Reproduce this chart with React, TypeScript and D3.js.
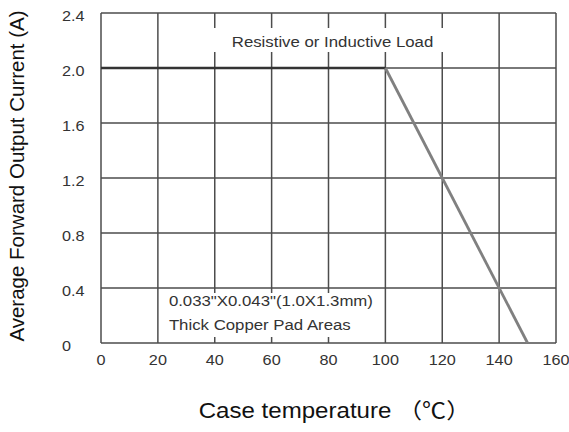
import React from "react";
import * as d3 from "d3";

const W = 569;
const H = 432;
const margin = { left: 101, right: 13, top: 13, bottom: 89 };

const xTicks = [0, 20, 40, 60, 80, 100, 120, 140, 160];
const yTicks = [0, 0.4, 0.8, 1.2, 1.6, 2.0, 2.4];
const yTickLabels = ["0", "0.4", "0.8", "1.2", "1.6", "2.0", "2.4"];

const flatSegment: [number, number][] = [
  [0, 2.0],
  [100, 2.0],
];
const deratingSegment: [number, number][] = [
  [100, 2.0],
  [150, 0],
];

const topNote = "Resistive or Inductive Load";
const bottomNote = ['0.033"X0.043"(1.0X1.3mm)', "Thick Copper Pad Areas"];
const xTitle = "Case temperature （℃）";
const yTitle = "Average Forward Output Current (A)";

const FONT = "'Liberation Sans', Arial, 'Noto Sans CJK SC', sans-serif";
const SX = 1.12;

function StretchText(props: {
  x: number;
  y: number;
  size: number;
  anchor?: string;
  fill?: string;
  children: React.ReactNode;
}) {
  const { x, y, size, anchor = "start", fill = "#333", children } = props;
  return (
    <text
      transform={`translate(${x},${y}) scale(${SX},1)`}
      fontSize={size}
      fontFamily={FONT}
      textAnchor={anchor}
      fill={fill}
    >
      {children}
    </text>
  );
}

export default function App() {
  const x = d3
    .scaleLinear()
    .domain([0, 160])
    .range([margin.left, W - margin.right]);
  const y = d3
    .scaleLinear()
    .domain([0, 2.4])
    .range([H - margin.bottom, margin.top]);

  const line = d3
    .line<[number, number]>()
    .x((d) => x(d[0]))
    .y((d) => y(d[1]));

  const gridColor = "#4d4d4d";

  return (
    <svg
      width={W}
      height={H}
      style={{ position: "absolute", left: 0, top: 0, background: "#fff" }}
    >
      <rect x={0} y={0} width={W} height={H} fill="#fff" />
      {/* grid */}
      {xTicks.map((t) => (
        <line
          key={"gx" + t}
          x1={x(t)}
          x2={x(t)}
          y1={y(0)}
          y2={y(2.4)}
          stroke={gridColor}
          strokeWidth={1.5}
        />
      ))}
      {yTicks.map((t) => (
        <line
          key={"gy" + t}
          x1={x(0)}
          x2={x(160)}
          y1={y(t)}
          y2={y(t)}
          stroke={gridColor}
          strokeWidth={1.5}
        />
      ))}

      {/* annotation boxes */}
      <rect
        x={x(35)}
        y={y(2.4) + 15}
        width={x(125) - x(35)}
        height={24}
        fill="#fff"
      />
      <rect
        x={x(20) + 1.5}
        y={y(0.4) + 5}
        width={x(100) - x(20) - 3}
        height={44}
        fill="#fff"
      />

      {/* annotation texts */}
      <StretchText x={(x(0) + x(160)) / 2 + 4} y={y(2.4) + 34} size={15} anchor="middle">
        {topNote}
      </StretchText>
      <StretchText x={x(20) + 11} y={y(0.4) + 18} size={15}>
        {bottomNote[0]}
      </StretchText>
      <StretchText x={x(20) + 11} y={y(0.4) + 42} size={15}>
        {bottomNote[1]}
      </StretchText>

      {/* curve */}
      <path
        d={line(flatSegment) || ""}
        fill="none"
        stroke="#333"
        strokeWidth={2.5}
      />
      <path
        d={line(deratingSegment) || ""}
        fill="none"
        stroke="#808080"
        strokeWidth={2.8}
      />

      {/* tick labels */}
      {yTicks.map((t, i) => (
        <StretchText key={"yl" + t} x={62} y={y(t) + 8} size={14.5}>
          {yTickLabels[i]}
        </StretchText>
      ))}
      {xTicks.map((t) => (
        <StretchText key={"xl" + t} x={x(t)} y={y(0) + 22} size={14.5} anchor="middle">
          {String(t)}
        </StretchText>
      ))}

      {/* axis titles */}
      <StretchText x={(x(0) + x(160)) / 2 + 6} y={418} size={21.5} anchor="middle" fill="#111">
        {xTitle}
      </StretchText>
      <text
        transform={`translate(24,${(y(0) + y(2.4)) / 2 - 2}) rotate(-90)`}
        fontSize={20.5}
        fontFamily={FONT}
        textAnchor="middle"
        fill="#111"
      >
        {yTitle}
      </text>
    </svg>
  );
}
